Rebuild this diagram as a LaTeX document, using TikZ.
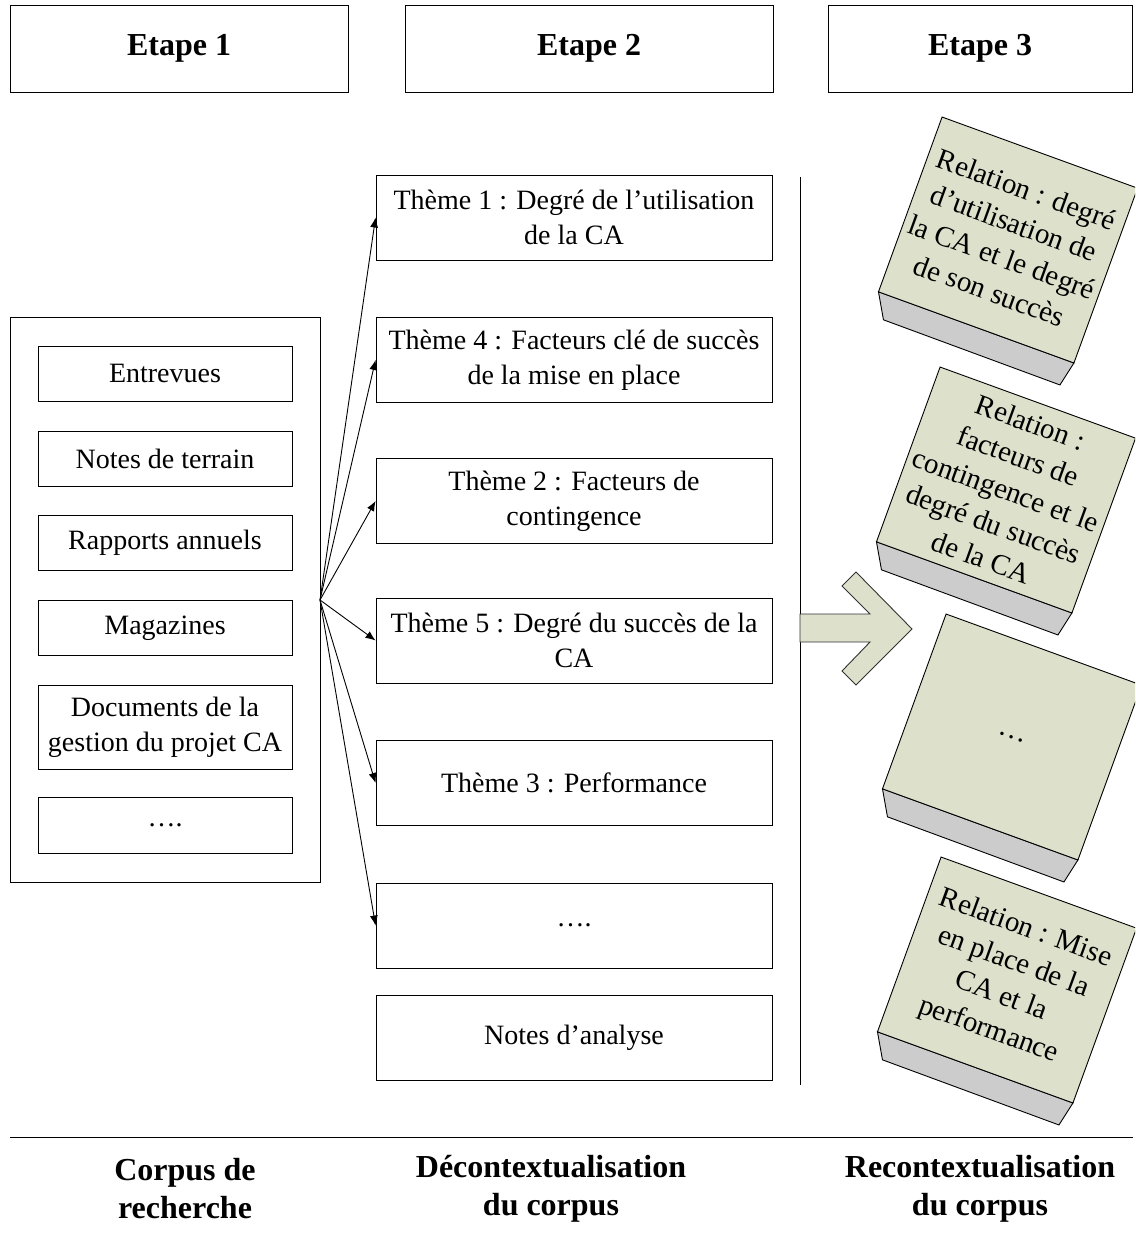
\documentclass[tikz,border=0pt]{standalone}
\usepackage{fontspec}
\setmainfont{Liberation Serif}
\usetikzlibrary{arrows.meta,calc}
\definecolor{facegreen}{RGB}{221,224,203}
\definecolor{sidegray}{RGB}{204,204,204}
\newcommand{\relcube}[4]{%
  \coordinate (#3) at (#1,#2);
  \filldraw[fill=sidegray, draw=black, line width=0.45pt]
    ($(#3)+(-129.54,51.82)$) -- ($(#3)+(65.92,122.96)$) -- ($(#3)+(51.92,144.96)$) -- ($(#3)+(-124.54,79.82)$) -- cycle;
  \filldraw[fill=facegreen, draw=black, line width=0.45pt]
    ($(#3)+(-65.92,-122.96)$) -- ($(#3)+(129.54,-51.82)$) -- ($(#3)+(65.92,122.96)$) -- ($(#3)+(-129.54,51.82)$) -- cycle;
  \node[cubetext, rotate=-20] (#3t) at (#3) {#4};
}
\begin{document}
\begin{tikzpicture}[x=0.5pt,y=-0.5pt,
  box/.style={draw=black, line width=0.45pt, align=center, inner sep=2pt, font=\fontsize{14}{17.5}\selectfont},
  head/.style={box, font=\fontsize{16}{19}\selectfont\bfseries},
  foot/.style={align=center, font=\fontsize{16}{19}\selectfont\bfseries},
  src/.style={box, minimum width=127pt},
  theme/.style={box, minimum width=198pt, minimum height=42.5pt},
  cubetext/.style={align=center, inner sep=0pt, font=\fontsize{14.5}{18}\selectfont},
  arr/.style={line width=0.45pt, -{Latex[length=5pt,width=4pt]}},
  rule/.style={line width=0.5pt}]
\useasboundingbox (0,0) rectangle (1135,1245);
\clip (0,0) rectangle (1135,1245);

% headers
\node[head, minimum width=169pt, minimum height=43.5pt] (h1) at (179,48.5) {Etape 1};
\node[head, minimum width=184pt, minimum height=43.5pt] (h2) at (589,48.5) {Etape 2};
\node[head, minimum width=152pt, minimum height=43.5pt] (h3) at (980,48.5) {Etape 3};

% corpus
\node[box, minimum width=155pt, minimum height=282.5pt] (corpus) at (165,599.5) {};
\node[src, minimum height=27.5pt] (e1) at (165,373.5) {Entrevues};
\node[src, minimum height=27.5pt] (e2) at (165,458.5) {Notes de terrain};
\node[src, minimum height=27.5pt] (e3) at (165,543) {Rapports annuels};
\node[src, minimum height=27.5pt] (e4) at (165,628) {Magazines};
\node[src, minimum height=42pt] (e5) at (165,727) {Documents de la\\gestion du projet CA};
\node[src, minimum height=28pt] (e6) at (165,825) {….};

% themes
\node[theme] (t1) at (574,217.5) {Thème 1 : Degré de l’utilisation\\de la CA};
\node[theme] (t4) at (574,360) {Thème 4 : Facteurs clé de succès\\de la mise en place};
\node[theme] (t2) at (574,501) {Thème 2 : Facteurs de\\contingence};
\node[theme] (t5) at (574,640.5) {Thème 5 : Degré du succès de la\\CA};
\node[theme] (t3) at (574,783) {Thème 3 : Performance};
\node[theme] (t6) at (574,925.5) {….};
\node[theme] (t7) at (574,1037.5) {Notes d’analyse};

% arrows
\coordinate (s) at (320,600);
\foreach \t in {t1,t4,t2,t5,t3,t6} \draw[arr] (s) -- (\t.west);

% separators
\coordinate (v1) at (800,177);
\coordinate (v2) at (800,1085);
\draw[rule] (v1) -- (v2);
\coordinate (r1) at (10,1137);
\coordinate (r2) at (1133,1137);
\draw[rule] (r1) -- (r2);

% big arrow
\filldraw[fill=facegreen, draw=black!80, line width=0.45pt]
  (800,614) -- (870,614) -- (842,586) -- (856,572) -- (912,629) -- (856,685) -- (842,671) -- (870,642) -- (800,642) -- cycle;

% cubes
\relcube{1008}{240}{c1}{Relation : degré\\d’utilisation de\\la CA et le degré\\de son succès}
\relcube{1006}{490}{c2}{Relation :\\facteurs de\\contingence et le\\degré du succès\\de la CA}
\relcube{1012}{737}{c3}{…}
\relcube{1007}{980}{c4}{Relation : Mise\\en place de la\\CA et la\\performance}

% footers
\node[foot] (b1) at (185,1189) {Corpus de\\recherche};
\node[foot] (b2) at (551,1189) {Décontextualisation\\du corpus};
\node[foot] (b3) at (980,1189) {Recontextualisation\\du corpus};
\end{tikzpicture}
\end{document}
